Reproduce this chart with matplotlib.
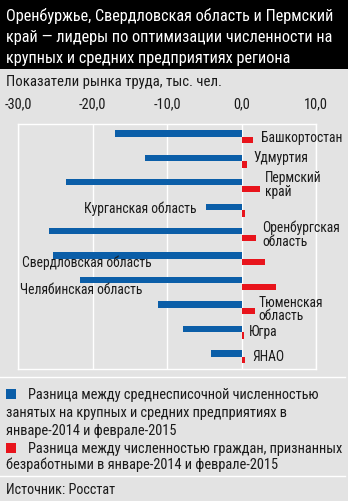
import matplotlib
matplotlib.use("Agg")
import matplotlib.pyplot as plt
from matplotlib.patches import Rectangle
from matplotlib.lines import Line2D

regions = ["Башкортостан", "Удмуртия", "Пермский\nкрай", "Курганская область",
           "Оренбургская\nобласть", "Свердловская область", "Челябинская область",
           "Тюменская\nобласть", "Югра", "ЯНАО"]
employed_change = [-17.0, -12.9, -23.6, -4.8, -25.9, -25.3, -21.7, -11.2, -7.9, -4.1]
unemployed_change = [1.6, 0.7, 2.5, 0.5, 1.9, 3.1, 4.6, 1.8, 0.3, 0.5]
tick_values = [-30, -20, -10, 0, 10]
tick_labels = ["-30,0", "-20,0", "-10,0", "0,0", "10,0"]

# label placement: (x in data units, y offset from group centre, ha)
label_pos = [(2.6, 0.05, "left"), (1.6, -0.12, "left"), (3.2, -0.04, "left"),
             (-6.1, -0.04, "right"), (2.8, 0.0, "left"), (-29.5, 0.17, "left"),
             (-29.7, 0.28, "left"), (2.3, 0.07, "left"), (1.05, 0.0, "left"),
             (1.45, 0.0, "left")]

legend_blue = ["Разница между среднесписочной численностью",
               "занятых на крупных и средних предприятиях в",
               "январе-2014 и феврале-2015"]
legend_red = ["Разница между численностью граждан, признанных",
              "безработными в январе-2014 и феврале-2015"]

BG = "#e3e3e3"
BLUE = "#0b5ea8"
RED = "#e8141c"
INK = "#1a1a1a"
FONT = ["Roboto Condensed", "PT Sans Narrow", "DejaVu Sans"]

W, H = 348, 501
fig = plt.figure(figsize=(W / 100, H / 100), dpi=100)
fig.patch.set_facecolor(BG)


def fx(px):
    return px / W


def fy(py):
    return 1 - py / H


# title block
fig.patches.append(Rectangle((0, fy(69)), 1, 69 / H, transform=fig.transFigure,
                             facecolor="black", edgecolor="none", zorder=0))
title_lines = ["Оренбуржье, Свердловская область и Пермский",
               "край — лидеры по оптимизации численности на",
               "крупных и средних предприятиях региона"]
for ty, line in zip((21, 42, 62.5), title_lines):
    fig.text(fx(6), fy(ty), line, color="white", fontsize=11.7, family=FONT,
             va="baseline", ha="left")

fig.text(fx(6), fy(86), "Показатели рынка труда, тыс. чел.", fontsize=10.6,
         family=FONT, va="baseline", ha="left", color=INK)

# plot
ax = fig.add_axes([fx(18), fy(369), fx(316) - fx(18), (369 - 124) / H])
ax.set_facecolor(BG)
ypos = list(range(len(regions)))
h = 0.26
ax.barh([y - 0.135 for y in ypos], employed_change, height=h, color=BLUE, zorder=3)
ax.barh([y + 0.135 for y in ypos], unemployed_change, height=h, color=RED, zorder=3)
ax.set_xlim(-30, 10)
ax.set_ylim(9.5, -0.52)
ax.set_yticks([])
ax.set_xticks(tick_values)
ax.set_xticklabels(tick_labels, family=FONT, fontsize=10.4, color=INK)
ax.xaxis.tick_top()
ax.tick_params(axis="x", length=0, pad=9)
ax.grid(axis="x", color="white", linewidth=1, zorder=1)
for s in ax.spines.values():
    s.set_color("white")
    s.set_linewidth(1)

for i, (name, (lx, dy, ha)) in enumerate(zip(regions, label_pos)):
    ax.text(lx, i + dy, name, ha=ha, va="center", family=FONT, fontsize=9.8,
            color=INK, linespacing=0.98, zorder=4, clip_on=False)

# separators
for py in (377, 476):
    fig.lines.append(Line2D([0, 0.99], [fy(py), fy(py)], transform=fig.transFigure,
                            color="white", linewidth=1))

# legend
fig.patches.append(Rectangle((fx(6), fy(399)), 10 / W, 10 / H, transform=fig.transFigure,
                             facecolor=BLUE, edgecolor="none"))
fig.patches.append(Rectangle((fx(6), fy(453)), 10 / W, 10 / H, transform=fig.transFigure,
                             facecolor=RED, edgecolor="none"))
for j, (ly, line) in enumerate(zip((394, 412, 429), legend_blue)):
    fig.text(fx(28 if j == 0 else 6), fy(ly), line, fontsize=10.4, family=FONT,
             va="center_baseline", ha="left", color=INK)
for j, (ly, line) in enumerate(zip((447, 463), legend_red)):
    fig.text(fx(28 if j == 0 else 6), fy(ly), line, fontsize=10.4, family=FONT,
             va="center_baseline", ha="left", color=INK)

fig.text(fx(6), fy(488), "Источник: Росстат", fontsize=10.2, family=FONT,
         va="center_baseline", ha="left", color=INK)

fig.savefig("out.png", dpi=100, facecolor=BG)
